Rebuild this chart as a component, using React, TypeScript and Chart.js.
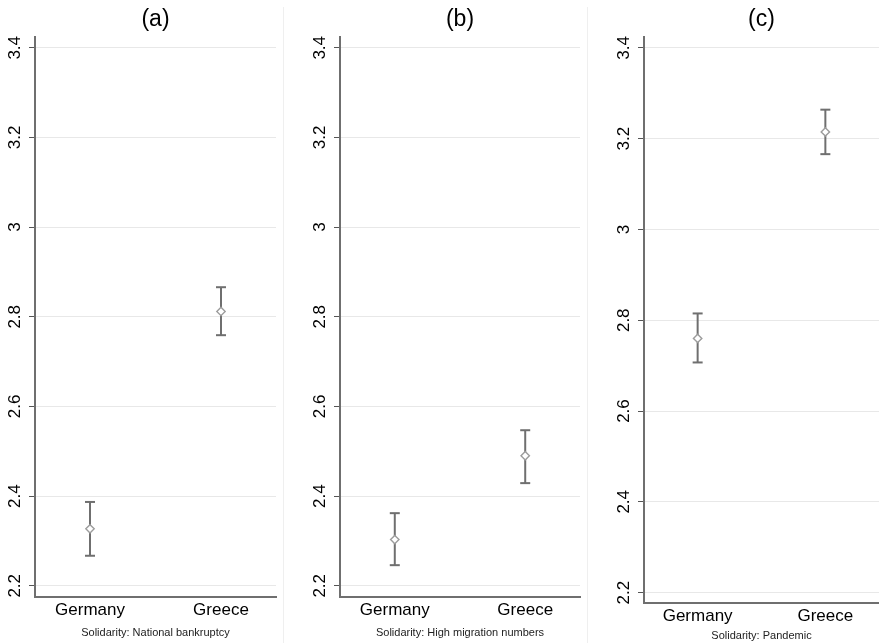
import React, { useEffect, useRef } from 'react';
import { Chart, registerables } from 'chart.js';

Chart.register(...registerables);

const categories = ['Germany', 'Greece'];
const panelTitles = ['(a)', '(b)', '(c)'];
const captions = [
  'Solidarity: National bankruptcy',
  'Solidarity: High migration numbers',
  'Solidarity: Pandemic',
];
const yTicks = [2.2, 2.4, 2.6, 2.8, 3, 3.2, 3.4];

const meansA = [2.327, 2.812];
const lowerA = [2.267, 2.759];
const upperA = [2.387, 2.866];

const meansB = [2.303, 2.490];
const lowerB = [2.246, 2.429];
const upperB = [2.362, 2.547];

const meansC = [2.760, 3.215];
const lowerC = [2.707, 3.166];
const upperC = [2.815, 3.264];

const panels = [
  { title: panelTitles[0], caption: captions[0], means: meansA, lower: lowerA, upper: upperA },
  { title: panelTitles[1], caption: captions[1], means: meansB, lower: lowerB, upper: upperB },
  { title: panelTitles[2], caption: captions[2], means: meansC, lower: lowerC, upper: upperC },
];

const layouts = [
  { left: 0, width: 283, padLeft: 0, padRight: 7, xAxisH: 46, capPad: 3.4, yMin: 2.175, yMax: 3.425 },
  { left: 283, width: 304, padLeft: 22, padRight: 7, xAxisH: 46, capPad: 3.4, yMin: 2.175, yMax: 3.425 },
  { left: 587, width: 292, padLeft: 22, padRight: 0, xAxisH: 40, capPad: 0.4, yMin: 2.177, yMax: 3.425 },
];

const FONT = "'Liberation Sans', Arial, Helvetica, sans-serif";
const H = 643;
const BAR = '#6f6f6f';
const MARK = '#9c9c9c';

function makeConfig(p: any, l: any): any {
  const datasets: any[] = [];
  datasets.push({
    label: 'mean',
    data: p.means.map((m: number, i: number) => ({ x: i + 1, y: m })),
    pointStyle: 'rectRot',
    pointRadius: 4.2,
    pointHoverRadius: 4.2,
    pointBorderColor: MARK,
    pointBackgroundColor: '#ffffff',
    pointBorderWidth: 1.4,
    showLine: false,
  });
  categories.forEach((_c, i) => {
    datasets.push({
      label: 'ci' + i,
      data: [
        { x: i + 1, y: p.lower[i] },
        { x: i + 1, y: p.upper[i] },
      ],
      showLine: true,
      borderColor: BAR,
      borderWidth: 2,
      pointStyle: 'line',
      pointRadius: 5,
      pointHoverRadius: 5,
      pointBorderColor: BAR,
      pointBorderWidth: 2,
      fill: false,
      clip: false,
    });
  });

  return {
    type: 'scatter',
    data: { datasets },
    options: {
      responsive: false,
      animation: false,
      events: [],
      layout: {
        autoPadding: false,
        padding: { left: l.padLeft, right: l.padRight, top: 0, bottom: 0 },
      },
      plugins: {
        legend: { display: false },
        tooltip: { enabled: false },
        title: {
          display: true,
          text: p.title,
          fullSize: false,
          color: '#000',
          font: { family: FONT, size: 23, weight: 'normal' },
          padding: { top: 6, bottom: 3 },
        },
      },
      scales: {
        x: {
          type: 'linear',
          min: 0.58,
          max: 2.42,
          afterBuildTicks: (s: any) => {
            s.ticks = categories.map((_c, i) => ({ value: i + 1 }));
          },
          ticks: {
            callback: (v: any) => categories[Math.round(v) - 1] ?? '',
            font: { family: FONT, size: 17 },
            color: '#000',
            padding: -5,
            maxRotation: 0,
            minRotation: 0,
            autoSkip: false,
          },
          grid: { display: false },
          border: { display: true, color: BAR, width: 2 },
          title: {
            display: true,
            text: p.caption,
            color: '#222',
            font: { family: FONT, size: 11 },
            padding: { top: 0, bottom: l.capPad },
          },
          afterFit: (s: any) => {
            s.height = l.xAxisH;
            s.paddingLeft = 0;
            s.paddingRight = 0;
          },
        },
        y: {
          type: 'linear',
          min: l.yMin,
          max: l.yMax,
          afterBuildTicks: (s: any) => {
            s.ticks = yTicks.map((v) => ({ value: v }));
          },
          ticks: {
            callback: (v: any) => String(Math.round(v * 10) / 10),
            minRotation: 90,
            maxRotation: 90,
            crossAlign: 'center',
            padding: 2,
            font: { family: FONT, size: 17 },
            color: '#000',
            autoSkip: false,
          },
          grid: {
            color: '#e8e8e8',
            lineWidth: 1,
            tickColor: '#555',
            tickLength: 6,
            tickWidth: 1,
          },
          border: { display: true, color: BAR, width: 2 },
          afterFit: (s: any) => {
            s.width = 35;
          },
        },
      },
    },
  };
}

function Panel({ idx }: { idx: number }) {
  const ref = useRef<HTMLCanvasElement | null>(null);
  useEffect(() => {
    if (!ref.current) return;
    const chart = new Chart(ref.current, makeConfig(panels[idx], layouts[idx]));
    return () => chart.destroy();
  }, [idx]);
  const l = layouts[idx];
  return (
    <canvas
      ref={ref}
      width={l.width}
      height={H}
      style={{ position: 'absolute', left: l.left, top: 0, width: l.width, height: H }}
    />
  );
}

export default function App() {
  return (
    <div
      style={{
        position: 'fixed',
        left: 0,
        top: 0,
        width: 879,
        height: H,
        background: '#ffffff',
        overflow: 'hidden',
      }}
    >
      <Panel idx={0} />
      <Panel idx={1} />
      <Panel idx={2} />
      <div style={{ position: 'absolute', left: 283, top: 7, width: 1, height: H - 7, background: '#efefef' }} />
      <div style={{ position: 'absolute', left: 587, top: 7, width: 1, height: H - 7, background: '#efefef' }} />
    </div>
  );
}
